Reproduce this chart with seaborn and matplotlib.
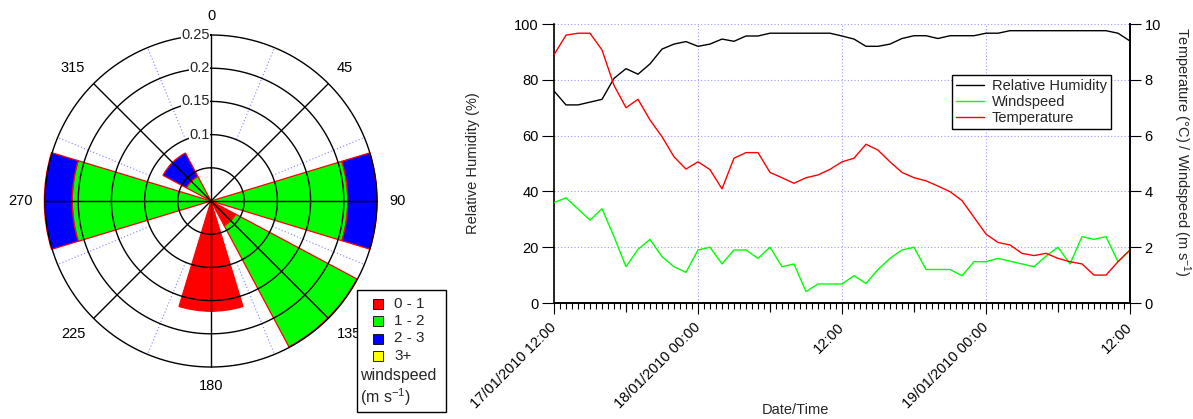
import numpy as np
import pandas as pd
import matplotlib
matplotlib.use("Agg")
import matplotlib.pyplot as plt
import matplotlib.dates as mdates
from matplotlib.patches import Rectangle
import seaborn as sns

# ---------------- wind rose data ----------------
directions = [0, 45, 90, 135, 180, 225, 270, 315]
speed_bins = ["0 - 1", "1 - 2", "2 - 3", "3+"]
freq_0_1 = [0.0, 0.0, 0.0, 0.042, 0.166, 0.0, 0.0, 0.0]
freq_1_2 = [0.0, 0.0, 0.206, 0.207, 0.0, 0.0, 0.209, 0.042]
freq_2_3 = [0.0, 0.0, 0.044, 0.0, 0.0, 0.0, 0.042, 0.040]
freq_3p = [0.0, 0.0, 0.0, 0.0, 0.0, 0.0, 0.0, 0.0]
bin_colors = ["#ff0000", "#00ff00", "#0000ff", "#ffff00"]
ring_values = [0.05, 0.1, 0.15, 0.2, 0.25]
radial_ticks = [0.1, 0.15, 0.2, 0.25]
radial_tick_labels = ["0.1", "0.15", "0.2", "0.25"]
angle_labels = ["0", "45", "90", "135", "180", "225", "270", "315"]

# ---------------- time series data (hourly) ----------------
start_time = "2010-01-17 12:00"
rel_humidity = [76, 71, 71, 72, 73, 80.5, 84, 82, 85.7, 91,
                92.8, 93.7, 92, 92.8, 94.6, 93.8, 95.7, 95.7, 96.7, 96.7,
                96.7, 96.7, 96.7, 96.7, 95.7, 94.6, 92, 92, 92.8, 94.8,
                95.8, 95.8, 94.8, 95.8, 95.8, 95.8, 96.7, 96.7, 97.6, 97.6,
                97.6, 97.6, 97.6, 97.6, 97.6, 97.6, 97.6, 96.7, 93.9]
temperature = [8.9, 9.6, 9.67, 9.67, 9.07, 7.8, 7.0, 7.3, 6.56, 5.96,
               5.24, 4.8, 5.06, 4.78, 4.09, 5.19, 5.39, 5.39, 4.68, 4.49,
               4.29, 4.49, 4.59, 4.79, 5.06, 5.19, 5.69, 5.48, 5.06, 4.68,
               4.49, 4.38, 4.19, 3.99, 3.67, 3.07, 2.47, 2.17, 2.08, 1.78,
               1.70, 1.78, 1.60, 1.48, 1.40, 1.0, 1.0, 1.48, 1.9]
windspeed = [3.6, 3.77, 3.37, 2.97, 3.38, 2.38, 1.3, 1.92, 2.28, 1.66,
             1.3, 1.1, 1.9, 2.0, 1.4, 1.9, 1.9, 1.6, 2.0, 1.3,
             1.4, 0.41, 0.68, 0.68, 0.68, 0.98, 0.7, 1.2, 1.6, 1.9,
             2.0, 1.2, 1.2, 1.2, 0.98, 1.48, 1.48, 1.6, 1.5, 1.4,
             1.3, 1.68, 2.0, 1.4, 2.38, 2.28, 2.38, 1.48, 1.9]
series_labels = ["Relative Humidity", "Windspeed", "Temperature"]
series_colors = ["#000000", "#00ff00", "#ff0000"]
x_tick_times = ["2010-01-17 12:00", "2010-01-18 00:00", "2010-01-18 12:00",
                "2010-01-19 00:00", "2010-01-19 12:00"]
x_tick_labels = ["17/01/2010 12:00", "18/01/2010 00:00", "12:00",
                 "19/01/2010 00:00", "12:00"]
x_mid_ticks = ["2010-01-17 18:00", "2010-01-18 06:00", "2010-01-18 18:00",
               "2010-01-19 06:00"]
rh_ticks = [0, 20, 40, 60, 80, 100]
right_ticks = [0, 2, 4, 6, 8, 10]

# ---------------- style ----------------
sns.set_theme(style="ticks")
plt.rcParams["font.family"] = ["Liberation Sans", "DejaVu Sans"]
plt.rcParams["mathtext.fontset"] = "custom"
plt.rcParams["mathtext.rm"] = "Liberation Sans"
plt.rcParams["mathtext.it"] = "Liberation Sans:italic"
plt.rcParams["mathtext.bf"] = "Liberation Sans:bold"

W, H = 1193, 419
fig = plt.figure(figsize=(W / 100, H / 100), dpi=100)
fig.patch.set_facecolor("white")

# ---------------- wind rose (polar) ----------------
cx, cy = 211, 201
rmax = 0.3
R = 166 * rmax / 0.25
axp = fig.add_axes([(cx - R) / W, (H - cy - R) / H, 2 * R / W, 2 * R / H],
                   projection="polar")
axp.set_theta_zero_location("N")
axp.set_theta_direction(-1)
axp.set_ylim(0, rmax)
axp.grid(False)
axp.set_xticks([])
axp.set_yticks([])
axp.spines["polar"].set_visible(False)
axp.patch.set_alpha(0)

theta = np.deg2rad(directions)
width = np.deg2rad(33.75)
bottom = np.zeros(len(directions))
for vals, col in zip([freq_0_1, freq_1_2, freq_2_3, freq_3p], bin_colors):
    v = np.asarray(vals, dtype=float)
    m = v > 0
    if m.any():
        axp.bar(theta[m], v[m], width=width, bottom=bottom[m], color=col,
                edgecolor="#ff0000", linewidth=0.9, zorder=2)
    bottom += v

full = np.linspace(0, 2 * np.pi, 361)
for r in ring_values:
    axp.plot(full, np.full_like(full, r), color="black", lw=1.0, zorder=3)
for a in directions:
    axp.plot([np.deg2rad(a)] * 2, [0, 0.25], color="black", lw=1.0, zorder=3)
for a in np.arange(22.5, 360, 45):
    axp.plot([np.deg2rad(a)] * 2, [0.1, 0.25], color="#8080ff", lw=0.8,
             ls=(0, (1, 2)), zorder=1)

align = {0: ("center", "bottom"), 45: ("left", "bottom"), 90: ("left", "center"),
         135: ("left", "top"), 180: ("center", "top"), 225: ("right", "top"),
         270: ("right", "center"), 315: ("right", "bottom")}
for a, lab in zip(directions, angle_labels):
    ha, va = align[a]
    axp.text(np.deg2rad(a), 0.268, lab, ha=ha, va=va, fontsize=10.5, color="black")

for r, lab in zip(radial_ticks, radial_tick_labels):
    axp.annotate(lab, xy=(0, r), xytext=(-1, 0), textcoords="offset points",
                 ha="right", va="center", fontsize=10.5, zorder=5,
                 bbox=dict(fc="white", ec="none", pad=0.3))

# wind rose legend
def fx(px):
    return px / W


def fy(py):
    return 1 - py / H


fig.add_artist(Rectangle((fx(357), fy(412)), 89 / W, 122 / H,
                         transform=fig.transFigure, fc="white", ec="black", lw=1.0))
for i, (lab, col) in enumerate(zip(speed_bins, bin_colors)):
    yc = 303.5 + 17.5 * i
    fig.add_artist(Rectangle((fx(373), fy(yc + 5)), 10 / W, 10 / H,
                             transform=fig.transFigure, fc=col, ec="black", lw=0.6))
    fig.text(fx(394), fy(yc), lab, ha="left", va="center", fontsize=11)
fig.text(fx(360), fy(375), "windspeed", ha="left", va="center", fontsize=11.5)
fig.text(fx(360), fy(397), "(m s$^{-1}$)", ha="left", va="center", fontsize=11.5)

# ---------------- time series ----------------
times = pd.date_range(start_time, periods=len(rel_humidity), freq="h")
df = pd.DataFrame({"time": times, "rh": rel_humidity,
                   "temp": temperature, "wind": windspeed})

ax = fig.add_axes([554 / W, (H - 303) / H, 576 / W, 279 / H])
ax2 = ax.twinx()

sns.lineplot(data=df, x="time", y="rh", ax=ax, color=series_colors[0], lw=1.0,
             legend=False)
h_rh = ax.lines[-1]
sns.lineplot(data=df, x="time", y="wind", ax=ax2, color=series_colors[1], lw=1.0,
             legend=False)
h_wind = ax2.lines[-1]
sns.lineplot(data=df, x="time", y="temp", ax=ax2, color=series_colors[2], lw=1.0,
             legend=False)
h_temp = ax2.lines[-1]

ax.set_xlim(times[0], times[-1])
ax.set_ylim(0, 100)
ax2.set_ylim(0, 10)
ax.set_yticks(rh_ticks)
ax2.set_yticks(right_ticks)
ax.set_xticks(pd.to_datetime(x_tick_times))
ax.set_xticklabels(x_tick_labels)
ax.xaxis.set_minor_locator(mdates.MinuteLocator(byminute=[0, 30]))

for lbl in ax.get_xticklabels():
    lbl.set_rotation(45)
    lbl.set_ha("right")
    lbl.set_va("center")
    lbl.set_rotation_mode("anchor")

ax.tick_params(axis="y", length=8.5, width=0.8, pad=2.5, labelsize=10.5,
               colors="black", direction="out")
ax2.tick_params(axis="y", length=8, width=0.8, pad=2.5, labelsize=10.5,
                colors="black", direction="out")
ax.tick_params(axis="x", which="major", length=8, width=0.8, pad=8,
               labelsize=10.5, colors="black")
ax.tick_params(axis="x", which="minor", length=4.3, width=0.8, colors="black")

sec = ax.secondary_xaxis("bottom")
sec.set_xticks(mdates.date2num(pd.to_datetime(x_mid_ticks)))
sec.set_xticklabels([])
sec.tick_params(axis="x", length=6.3, width=0.8, colors="black")
sec.spines["bottom"].set_visible(False)

ax.grid(True, which="major", color="#9a9aff", ls=(0, (1, 2)), lw=0.8)
ax2.grid(False)

for a in (ax, ax2):
    a.spines["top"].set_visible(False)
    for s in ("left", "right", "bottom"):
        a.spines[s].set_color("black")
        a.spines[s].set_linewidth(1.2)
ax2.spines["left"].set_visible(False)

ax.set_xlabel("Date/Time", fontsize=10.5)
ax.xaxis.set_label_coords(0.42, -0.36)
ax.set_ylabel("Relative Humidity (%)", fontsize=10.5)
ax.yaxis.set_label_coords(-0.128, 0.5)
ax2.set_ylabel("Temperature (°C) / Windspeed (m s$^{-1}$)", fontsize=10.5,
               rotation=-90, va="center", ha="center")
ax2.yaxis.set_label_coords(1.09, 0.54)

leg = ax2.legend([h_rh, h_wind, h_temp], series_labels, loc="upper left",
                 bbox_to_anchor=(0.691, 0.817), borderaxespad=0, frameon=True,
                 fancybox=False, edgecolor="black", framealpha=1, fontsize=10.5,
                 handlelength=1.9, handletextpad=0.55, labelspacing=0.12,
                 borderpad=0.3)
leg.get_frame().set_linewidth(1.0)

fig.savefig("out.png", dpi=100, facecolor="white")
